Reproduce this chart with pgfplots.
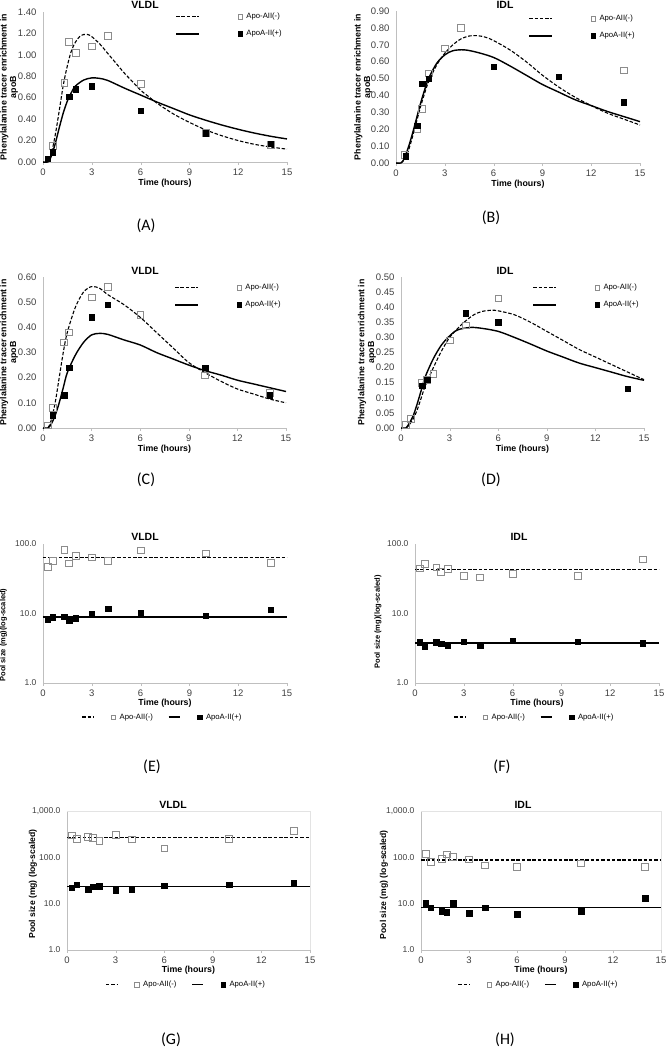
\documentclass[border=0pt]{standalone}
\usepackage{pgfplots}
\pgfplotsset{compat=1.18}
\usepackage{fontspec}
\setmainfont{Liberation Sans}
\newfontfamily\calib{Carlito}
\definecolor{axgray}{HTML}{BFBFBF}
\definecolor{boxgray}{HTML}{E3E3E3}
\definecolor{mkgray}{HTML}{8C8C8C}
\definecolor{tkcol}{HTML}{404040}
\pgfplotsset{
  base/.style={
    scale only axis, anchor=south west,
    xmin=0, xmax=15, xtick={0,3,6,9,12,15},
    axis x line*=bottom, axis y line*=left,
    axis line style={draw=axgray,-},
    tick label style={font=\fontsize{9.5}{11}\selectfont, text=tkcol},
    label style={font=\bfseries\fontsize{8.8}{9.6}\selectfont},
    /pgf/number format/assume math mode=true,
    ytick style={draw=none}, xtick style={draw=axgray}, tick align=outside,
    major tick length=3pt,
    xlabel={Time (hours)},
    legend cell align=left,
  },
  encr/.style={
    ylabel={Phenylalanine tracer enrichment in\\apoB},
    ylabel style={align=center, anchor=center},
    yticklabel style={/pgf/number format/.cd, fixed, fixed zerofill, precision=2},
    legend columns=2,
    legend style={draw=none, fill=none, font=\fontsize{7.7}{9}\selectfont,
      anchor=north east, row sep=6pt,
      /tikz/every even column/.append style={column sep=34pt}},
  },
  pool/.style={
    ymin=1,
    legend columns=4,
    yticklabel style={font=\fontsize{8.5}{10}\selectfont},
    ylabel style={anchor=center},
    legend style={draw=none, fill=none, font=\fontsize{7.7}{9}\selectfont,
      anchor=center,
      /tikz/every even column/.append style={column sep=13pt}},
  },
  framed/.style={
    after end axis/.code={\draw[boxgray, line width=0.4pt] (rel axis cs:0,1) -- (rel axis cs:1,1) -- (rel axis cs:1,0);},
  },
  dcurve/.style={black, line width=1.1pt, dash pattern=on 3.5pt off 1.8pt, smooth, tension=0.5},
  scurve/.style={black, line width=1.4pt, smooth, tension=0.5},
  dline/.style={black, line width=1.3pt, dash pattern=on 3.5pt off 1.8pt},
  sline/.style={black, line width=1.4pt},
  opensq/.style={only marks, mark=square, mark size=3.3pt, mark options={draw=mkgray, fill=white, line width=0.6pt}},
  fillsq/.style={only marks, mark=square*, mark size=2.8pt, mark options={draw=black, fill=black}},
  longleg/.style={legend image code/.code={\draw[##1] (0pt,0pt) -- (23pt,0pt);}},
  shortleg/.style={legend image code/.code={\draw[##1] (0pt,0pt) -- (11pt,0pt);}},
  markleg/.style={legend image code/.code={\draw[##1, mark size=2.2pt] plot coordinates {(0pt,0pt)}; \path (-2.2pt,0pt) (4pt,0pt);}},
}
\newcommand\ttl{\bfseries\fontsize{10.5}{12}\selectfont}
\newcommand\plab{\calib\fontsize{16}{18}\selectfont}
\begin{document}
\begin{tikzpicture}
\path[use as bounding box] (0pt,0pt) rectangle (667pt,-1050pt);

% ---------------- (A) VLDL enrichment
\begin{axis}[base, encr, at={(43pt,-162pt)}, width=244pt, height=150pt,
  ymin=0, ymax=1.4, ytick={0,0.2,0.4,0.6,0.8,1.0,1.2,1.4},
  ylabel style={at={(axis description cs:-0.139,0.5)}},
  xlabel style={at={(axis description cs:0.5,-0.14)}, anchor=center},
  legend style={at={(axis description cs:1.0,1.02)}}]
\addplot[dcurve, longleg] coordinates {(0,0) (0.3,0.0) (0.5,0.07) (0.75,0.25) (1.0,0.48) (1.25,0.72) (1.5,0.90) (1.75,1.04) (2.0,1.12) (2.25,1.17) (2.5,1.19) (2.75,1.19) (3.0,1.17) (3.5,1.10) (4.0,1.01) (4.5,0.92) (5.0,0.83) (5.5,0.75) (6.0,0.67) (6.5,0.61) (7.0,0.55) (8,0.45) (9,0.37) (10,0.30) (11,0.245) (12,0.20) (13,0.165) (14,0.14) (15,0.12)};
\addlegendentry{\mbox{}}
\addplot[opensq, markleg] coordinates {(0.6,0.15) (1.3,0.74) (1.6,1.12) (2,1.02) (3,1.08) (4,1.18) (6,0.73) (10,0.27) (14,0.16)};
\addlegendentry{Apo-AII(-)}
\addplot[scurve, longleg] coordinates {(0,0) (0.3,0.0) (0.5,0.05) (0.75,0.17) (1.0,0.32) (1.25,0.46) (1.5,0.57) (1.75,0.65) (2.0,0.71) (2.5,0.765) (3.0,0.785) (3.5,0.78) (4.0,0.76) (5.0,0.69) (6,0.625) (7,0.56) (8,0.50) (9,0.44) (10,0.39) (11,0.345) (12,0.305) (13,0.27) (14,0.24) (15,0.215)};
\addlegendentry{\mbox{}}
\addplot[fillsq, markleg] coordinates {(0.3,0.03) (0.6,0.09) (1.6,0.61) (2,0.68) (3,0.71) (6,0.48) (10,0.27) (14,0.17)};
\addlegendentry{ApoA-II(+)}
\end{axis}
\node[font=\ttl] at (145pt,-5pt) {VLDL};

% ---------------- (B) IDL enrichment
\begin{axis}[base, encr, at={(396pt,-163pt)}, width=244pt, height=152pt,
  ymin=0, ymax=0.9, ytick={0,0.1,0.2,0.3,0.4,0.5,0.6,0.7,0.8,0.9},
  ylabel style={at={(axis description cs:-0.135,0.5)}},
  xlabel style={at={(axis description cs:0.5,-0.138)}, anchor=center},
  legend style={at={(axis description cs:1.0,1.0)}}]
\addplot[dcurve, longleg] coordinates {(0,0) (0.3,0.0) (0.5,0.02) (0.75,0.07) (1.0,0.15) (1.25,0.24) (1.5,0.33) (1.75,0.41) (2.0,0.48) (2.5,0.58) (3.0,0.65) (3.5,0.70) (4.0,0.735) (4.5,0.752) (5.0,0.754) (5.5,0.745) (6.0,0.725) (7,0.67) (8,0.60) (9,0.52) (10,0.45) (11,0.39) (12,0.34) (13,0.295) (14,0.26) (15,0.225)};
\addlegendentry{\mbox{}}
\addplot[opensq, markleg] coordinates {(0.5,0.05) (1.3,0.20) (1.6,0.32) (2,0.53) (3,0.68) (4,0.80) (14,0.55)};
\addlegendentry{Apo-AII(-)}
\addplot[scurve, longleg] coordinates {(0,0) (0.3,0.0) (0.5,0.025) (0.75,0.09) (1.0,0.17) (1.25,0.26) (1.5,0.35) (1.75,0.43) (2.0,0.50) (2.5,0.59) (3.0,0.64) (3.5,0.665) (4.2,0.67) (5,0.655) (6,0.625) (7,0.575) (8,0.52) (9,0.465) (10,0.42) (11,0.375) (12,0.34) (13,0.305) (14,0.275) (15,0.245)};
\addlegendentry{\mbox{}}
\addplot[fillsq, markleg] coordinates {(0.6,0.04) (1.3,0.22) (1.6,0.47) (2,0.50) (6,0.57) (10,0.51) (14,0.36)};
\addlegendentry{ApoA-II(+)}
\end{axis}
\node[font=\ttl] at (505pt,-5pt) {IDL};

% ---------------- (C) VLDL enrichment
\begin{axis}[base, encr, at={(43pt,-428pt)}, width=243pt, height=151pt,
  ymin=0, ymax=0.6, ytick={0,0.1,0.2,0.3,0.4,0.5,0.6},
  ylabel style={at={(axis description cs:-0.14,0.5)}},
  xlabel style={at={(axis description cs:0.5,-0.139)}, anchor=center},
  legend style={at={(axis description cs:1.0,0.98)}}]
\addplot[dcurve, longleg] coordinates {(0,0) (0.3,0.0) (0.5,0.03) (0.75,0.10) (1.0,0.20) (1.25,0.30) (1.5,0.38) (2.0,0.48) (2.5,0.54) (3.0,0.562) (3.5,0.555) (4.0,0.53) (5.0,0.49) (6.0,0.44) (7.0,0.38) (8,0.32) (9,0.26) (10,0.22) (11,0.185) (12,0.155) (13,0.135) (14,0.115) (15,0.10)};
\addlegendentry{\mbox{}}
\addplot[opensq, markleg] coordinates {(0.3,0.01) (0.6,0.08) (1.3,0.34) (1.6,0.38) (3,0.52) (4,0.56) (6,0.45) (10,0.21) (14,0.14)};
\addlegendentry{Apo-AII(-)}
\addplot[scurve, longleg] coordinates {(0,0) (0.3,0.0) (0.5,0.015) (0.75,0.05) (1.0,0.10) (1.25,0.16) (1.5,0.22) (2.0,0.29) (2.5,0.34) (3.0,0.37) (3.5,0.376) (4.0,0.372) (5.0,0.35) (6.0,0.33) (7,0.30) (8,0.275) (9,0.25) (10,0.228) (11,0.21) (12,0.19) (13,0.175) (14,0.16) (15,0.145)};
\addlegendentry{\mbox{}}
\addplot[fillsq, markleg] coordinates {(0.6,0.05) (1.3,0.13) (1.6,0.24) (3,0.44) (4,0.49) (10,0.24) (14,0.13)};
\addlegendentry{ApoA-II(+)}
\end{axis}
\node[font=\ttl] at (145pt,-271pt) {VLDL};

% ---------------- (D) IDL enrichment
\begin{axis}[base, encr, at={(401pt,-428pt)}, width=243pt, height=151pt,
  ymin=0, ymax=0.5, ytick={0,0.05,0.1,0.15,0.2,0.25,0.3,0.35,0.4,0.45,0.5},
  ylabel style={at={(axis description cs:-0.14,0.5)}},
  xlabel style={at={(axis description cs:0.5,-0.139)}, anchor=center},
  legend style={at={(axis description cs:1.0,0.98)}}]
\addplot[dcurve, longleg] coordinates {(0,0) (0.3,0.0) (0.5,0.01) (0.75,0.03) (1.0,0.06) (1.25,0.10) (1.5,0.14) (2.0,0.20) (2.5,0.255) (3.0,0.30) (3.5,0.33) (4.0,0.355) (4.5,0.375) (5.0,0.386) (5.6,0.39) (6.0,0.388) (7,0.375) (8,0.35) (9,0.32) (10,0.29) (11,0.26) (12,0.235) (13,0.21) (14,0.185) (15,0.16)};
\addlegendentry{\mbox{}}
\addplot[opensq, markleg] coordinates {(0.3,0.01) (0.6,0.03) (1.3,0.15) (1.6,0.16) (2,0.18) (3,0.29) (4,0.34) (6,0.43)};
\addlegendentry{Apo-AII(-)}
\addplot[scurve, longleg] coordinates {(0,0) (0.3,0.0) (0.5,0.015) (0.75,0.04) (1.0,0.08) (1.25,0.125) (1.5,0.17) (2.0,0.23) (2.5,0.275) (3.0,0.305) (3.5,0.325) (4.3,0.333) (5.0,0.33) (6.0,0.32) (7,0.30) (8,0.278) (9,0.255) (10,0.235) (11,0.215) (12,0.20) (13,0.185) (14,0.17) (15,0.158)};
\addlegendentry{\mbox{}}
\addplot[fillsq, markleg] coordinates {(1.3,0.14) (1.6,0.16) (4,0.38) (6,0.35) (14,0.13)};
\addlegendentry{ApoA-II(+)}
\end{axis}
\node[font=\ttl] at (505pt,-271pt) {IDL};

% ---------------- (E) VLDL pool
\begin{semilogyaxis}[base, pool, at={(43pt,-683pt)}, width=244pt, height=139pt,
  ymax=100, ytick={1,10,100}, yticklabels={1.0,10.0,100.0}, yminorticks=false,
  ylabel={Pool size (mg)(log-scaled)},
  ylabel style={at={(axis description cs:-0.162,0.345)}, font=\bfseries\fontsize{7.5}{9}\selectfont},
  xlabel style={at={(axis description cs:0.5,-0.144)}, anchor=center},
  legend style={at={(axis description cs:0.49,-0.245)}}]
\addplot[dline, shortleg] coordinates {(0,64) (15,64)};
\addlegendentry{\mbox{}}
\addplot[opensq, markleg] coordinates {(0.3,47) (0.6,57) (1.3,82) (1.6,53) (2,68) (3,64) (4,57) (6,81) (10,74) (14,54)};
\addlegendentry{Apo-AII(-)}
\addplot[sline, shortleg] coordinates {(0,8.9) (15,8.9)};
\addlegendentry{\mbox{}}
\addplot[fillsq, markleg] coordinates {(0.3,8.3) (0.6,8.8) (1.3,9.0) (1.6,8.0) (2,8.6) (3,9.8) (4,11.8) (6,10.1) (10,9.3) (14,11.3)};
\addlegendentry{ApoA-II(+)}
\end{semilogyaxis}
\node[font=\ttl] at (145pt,-537pt) {VLDL};

% ---------------- (F) IDL pool
\begin{semilogyaxis}[base, pool, at={(415pt,-683pt)}, width=244pt, height=139pt,
  ymax=100, ytick={1,10,100}, yticklabels={1.0,10.0,100.0}, yminorticks=false,
  ylabel={Pool size (mg)(log-scaled)},
  ylabel style={at={(axis description cs:-0.152,0.44)}, font=\bfseries\fontsize{7.5}{9}\selectfont},
  xlabel style={at={(axis description cs:0.5,-0.144)}, anchor=center},
  legend style={at={(axis description cs:0.49,-0.245)}}]
\addplot[dline, shortleg] coordinates {(0,42.5) (15,42.5)};
\addlegendentry{\mbox{}}
\addplot[opensq, markleg] coordinates {(0.3,45) (0.6,52) (1.3,46) (1.6,40) (2,44) (3,35) (4,33) (6,37) (10,35) (14,60)};
\addlegendentry{Apo-AII(-)}
\addplot[sline, shortleg] coordinates {(0,3.77) (15,3.77)};
\addlegendentry{\mbox{}}
\addplot[fillsq, markleg] coordinates {(0.3,3.85) (0.6,3.37) (1.3,3.85) (1.6,3.7) (2,3.44) (3,3.93) (4,3.44) (6,4.06) (10,3.93) (14,3.77)};
\addlegendentry{ApoA-II(+)}
\end{semilogyaxis}
\node[font=\ttl] at (519pt,-537pt) {IDL};

% ---------------- (G) VLDL pool
\begin{semilogyaxis}[base, pool, framed, at={(67pt,-950pt)}, width=243pt, height=139pt,
  ymax=1000, ytick={1,10,100,1000}, yticklabels={1.0,10.0,100.0,{1,000.0}}, yminorticks=false,
  ylabel={Pool size (mg) (log-scaled)},
  ylabel style={at={(axis description cs:-0.14,0.475)}, font=\bfseries\fontsize{8.6}{10}\selectfont},
  xlabel style={at={(axis description cs:0.5,-0.144)}, anchor=center},
  legend style={at={(axis description cs:0.49,-0.25)}}]
\addplot[dline, shortleg] coordinates {(0,264) (15,264)};
\addlegendentry{\mbox{}}
\addplot[opensq, markleg] coordinates {(0.3,302) (0.6,251) (1.3,278) (1.6,264) (2,228) (3,307) (4,243) (6,158) (10,251) (14,375)};
\addlegendentry{Apo-AII(-)}
\addplot[sline, shortleg] coordinates {(0,23.5) (15,23.5)};
\addlegendentry{\mbox{}}
\addplot[fillsq, markleg] coordinates {(0.3,22.2) (0.6,25.8) (1.3,20.6) (1.6,23.1) (2,24) (3,19.3) (4,20.6) (6,24.4) (10,25.6) (14,28)};
\addlegendentry{ApoA-II(+)}
\end{semilogyaxis}
\node[font=\ttl] at (173pt,-805pt) {VLDL};

% ---------------- (H) IDL pool
\begin{semilogyaxis}[base, pool, framed, at={(421pt,-950pt)}, width=240pt, height=139pt,
  ymax=1000, ytick={1,10,100,1000}, yticklabels={1.0,10.0,100.0,{1,000.0}}, yminorticks=false,
  ylabel={Pool size (mg) (log-scaled)},
  ylabel style={at={(axis description cs:-0.154,0.47)}, font=\bfseries\fontsize{8.6}{10}\selectfont},
  xlabel style={at={(axis description cs:0.5,-0.144)}, anchor=center},
  legend style={at={(axis description cs:0.49,-0.25)}}]
\addplot[dline, shortleg] coordinates {(0,87.5) (15,87.5)};
\addlegendentry{\mbox{}}
\addplot[opensq, markleg] coordinates {(0.3,120) (0.6,79) (1.3,94) (1.6,116) (2,103) (3,91) (4,68) (6,63) (10,74) (14,63)};
\addlegendentry{Apo-AII(-)}
\addplot[sline, shortleg] coordinates {(0,8.2) (15,8.2)};
\addlegendentry{\mbox{}}
\addplot[fillsq, markleg] coordinates {(0.3,10.3) (0.6,8.2) (1.3,6.9) (1.6,6.6) (2,10.2) (3,6.2) (4,8.2) (6,5.9) (10,6.8) (14,13.1)};
\addlegendentry{ApoA-II(+)}
\end{semilogyaxis}
\node[font=\ttl] at (523pt,-805pt) {IDL};

% panel labels
\node[font=\plab] at (146pt,-226pt) {(A)};
\node[font=\plab] at (491pt,-218pt) {(B)};
\node[font=\plab] at (146pt,-480pt) {(C)};
\node[font=\plab] at (491pt,-480pt) {(D)};
\node[font=\plab] at (152pt,-767pt) {(E)};
\node[font=\plab] at (502pt,-767pt) {(F)};
\node[font=\plab] at (171pt,-1040pt) {(G)};
\node[font=\plab] at (505pt,-1040pt) {(H)};
\end{tikzpicture}
\end{document}
